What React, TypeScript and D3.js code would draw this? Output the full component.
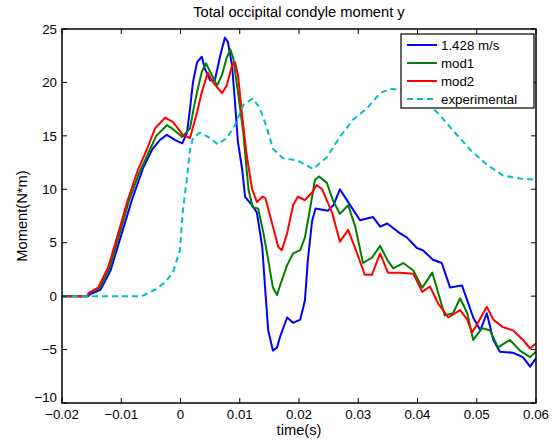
import React from "react";
import * as d3 from "d3";

const title = "Total occipital condyle moment y";
const xLabel = "time(s)";
const yLabel = "Moment(N*m)";
const xTicks = [-0.02, -0.01, 0, 0.01, 0.02, 0.03, 0.04, 0.05, 0.06];
const xTickLabels = ["\u22120.02", "\u22120.01", "0", "0.01", "0.02", "0.03", "0.04", "0.05", "0.06"];
const yTicks = [-10, -5, 0, 5, 10, 15, 20, 25];
const yTickLabels = ["\u221210", "\u22125", "0", "5", "10", "15", "20", "25"];
const seriesNames = ["1.428 m/s", "mod1", "mod2", "experimental"];
const seriesColors = ["#0000ff", "#008000", "#ff0000", "#00bfbf"];

const blue: [number, number][] = [
  [-0.02, 0], [-0.0156, 0], [-0.0152, 0.2], [-0.0135, 0.6], [-0.0118, 2.4], [-0.0099, 5.9],
  [-0.0082, 9.0], [-0.0063, 12.0], [-0.0048, 13.7], [-0.0035, 14.6], [-0.0023, 15.1],
  [-0.0009, 14.6], [0.0003, 14.3], [0.0011, 15.3], [0.0016, 17.5], [0.0021, 20.0],
  [0.0028, 21.9], [0.0036, 22.4], [0.0041, 21.3], [0.005, 20.2], [0.0058, 20.2],
  [0.0067, 22.5], [0.0075, 24.2], [0.008, 23.8], [0.0087, 21.6], [0.0092, 18.1],
  [0.0097, 14.4], [0.0104, 11.9], [0.0109, 9.3], [0.0121, 8.5], [0.0129, 7.8],
  [0.0138, 4.6], [0.0143, 0.6], [0.0148, -3.2], [0.0156, -5.1], [0.0163, -4.8],
  [0.0168, -3.8], [0.018, -2.0], [0.019, -2.5], [0.0202, -2.2], [0.021, -0.4],
  [0.0215, 3.4], [0.0222, 7.0], [0.0228, 8.2], [0.0249, 8.0], [0.0258, 8.5],
  [0.0269, 10.0], [0.0283, 8.8], [0.0303, 7.1], [0.0325, 7.4], [0.0337, 6.5],
  [0.0349, 6.8], [0.037, 5.9], [0.0382, 5.5], [0.0399, 4.5], [0.0409, 4.3],
  [0.0426, 3.4], [0.0441, 3.1], [0.0455, 0.8], [0.0475, 1.0], [0.0484, -0.4],
  [0.0494, -2.0], [0.0506, -3.2], [0.0517, -1.6], [0.0528, -4.1], [0.0539, -5.2],
  [0.0561, -5.3], [0.0578, -5.7], [0.059, -6.6], [0.06, -5.8],
];

const mod1: [number, number][] = [
  [-0.02, 0], [-0.0157, 0], [-0.0154, 0.3], [-0.0137, 0.7], [-0.012, 2.6], [-0.0103, 5.8],
  [-0.0087, 8.9], [-0.007, 11.5], [-0.0055, 13.3], [-0.0041, 15.0], [-0.0023, 16.0],
  [-0.0012, 15.6], [0.0003, 14.9], [0.0016, 15.7], [0.0022, 17.5], [0.0028, 19.1],
  [0.0036, 21.0], [0.0043, 21.8], [0.005, 21.0], [0.0062, 19.7], [0.007, 20.7],
  [0.0078, 22.3], [0.0084, 23.1], [0.0089, 22.3], [0.0097, 19.1], [0.0106, 15.3],
  [0.0112, 11.6], [0.0115, 9.9], [0.0122, 8.3], [0.0131, 8.2], [0.014, 5.9],
  [0.0148, 3.4], [0.0156, 0.8], [0.0163, 0.1], [0.0168, 1.0], [0.018, 2.9],
  [0.019, 4.0], [0.0202, 4.3], [0.021, 5.5], [0.0219, 8.3], [0.0227, 10.9],
  [0.0234, 11.2], [0.0247, 10.6], [0.0257, 9.0], [0.0269, 7.7], [0.0283, 8.5],
  [0.0295, 6.5], [0.0308, 3.1], [0.0323, 3.6], [0.0337, 4.7], [0.0349, 3.4],
  [0.0359, 2.6], [0.0376, 3.1], [0.0393, 2.4], [0.0408, 0.8], [0.0425, 2.2],
  [0.0435, 0.3], [0.0446, -1.8], [0.046, -1.6], [0.0472, -0.2], [0.0484, -1.6],
  [0.0494, -4.1], [0.0509, -3.0], [0.0522, -3.2], [0.0536, -4.8], [0.0556, -4.1],
  [0.0573, -5.1], [0.059, -5.7], [0.06, -5.2],
];

const mod2: [number, number][] = [
  [-0.02, 0], [-0.0158, 0], [-0.0155, 0.3], [-0.0139, 0.8], [-0.0122, 2.7], [-0.0105, 5.9],
  [-0.0089, 9.0], [-0.0072, 11.8], [-0.0057, 13.7], [-0.0043, 15.7], [-0.0026, 16.7],
  [-0.0013, 16.3], [0.0004, 15.1], [0.0016, 14.8], [0.0028, 17.2], [0.0036, 19.1],
  [0.0046, 20.9], [0.0055, 20.0], [0.007, 19.0], [0.0078, 19.7], [0.0087, 21.6],
  [0.0092, 21.9], [0.0097, 20.7], [0.0104, 16.9], [0.0111, 13.5], [0.0117, 11.3],
  [0.0121, 10.0], [0.0129, 8.8], [0.0138, 9.3], [0.0143, 9.2], [0.0148, 8.2],
  [0.0156, 6.5], [0.0165, 4.6], [0.0171, 4.3], [0.018, 5.9], [0.019, 8.5],
  [0.0198, 9.3], [0.021, 9.0], [0.0222, 9.7], [0.023, 10.4], [0.0239, 10.0],
  [0.0249, 8.7], [0.0256, 7.8], [0.0269, 5.1], [0.0283, 6.2], [0.0298, 4.0],
  [0.0311, 2.0], [0.0323, 2.0], [0.0337, 4.0], [0.035, 2.2], [0.037, 2.2],
  [0.0393, 2.1], [0.0408, 0.4], [0.0421, 0.9], [0.0435, -0.7], [0.0452, -2.0],
  [0.0472, -1.3], [0.0484, -2.2], [0.0492, -3.4], [0.0502, -2.5], [0.0517, -1.0],
  [0.0528, -2.2], [0.0544, -2.9], [0.0561, -3.2], [0.0578, -4.1], [0.059, -4.9],
  [0.06, -4.4],
];

const experimental: [number, number][] = [
  [-0.02, 0], [-0.0065, 0], [-0.0043, 0.6], [-0.0026, 1.3], [-0.0013, 2.2], [-0.0001, 4.3],
  [0.0004, 8.0], [0.0011, 11.1], [0.0016, 13.7], [0.0021, 14.8], [0.0033, 15.3],
  [0.005, 14.8], [0.0063, 14.2], [0.0078, 14.8], [0.0092, 16.0], [0.0106, 17.9],
  [0.0122, 18.5], [0.0134, 17.6], [0.0146, 15.7], [0.0156, 13.8], [0.0173, 12.9],
  [0.0197, 12.7], [0.0224, 11.9], [0.0247, 13.0], [0.0269, 14.9], [0.0291, 16.5],
  [0.0315, 17.6], [0.0337, 19.0], [0.0354, 19.4], [0.0374, 19.3], [0.04, 18.7],
  [0.042, 17.9], [0.0435, 17.1], [0.046, 15.5], [0.0489, 13.7], [0.0517, 12.3],
  [0.0544, 11.3], [0.0573, 11.0], [0.06, 10.9],
];

const allSeries = [blue, mod1, mod2, experimental];

const W = 555;
const H = 440;
const L = 62, R = 536, T = 29, B = 403;
const FONT = "'Liberation Sans', Arial, Helvetica, sans-serif";

export default function App() {
  const x = d3.scaleLinear().domain([-0.02, 0.06]).range([L, R]);
  const y = d3.scaleLinear().domain([-10, 25]).range([B, T]);
  const line = d3.line<[number, number]>().x((d) => x(d[0])).y((d) => y(d[1]));
  const tickLen = 5;
  const legX = 401, legY = 34, legW = 133, legH = 74;
  return (
    <svg width={W} height={H} style={{ position: "absolute", left: 0, top: 0, background: "#fff" }} fontFamily={FONT}>
      <rect x={0} y={0} width={W} height={H} fill="#fff" />
      <defs>
        <clipPath id="plotclip">
          <rect x={L} y={T} width={R - L} height={B - T} />
        </clipPath>
      </defs>
      <g clipPath="url(#plotclip)">
        {allSeries.map((s, i) => (
          <path
            key={i}
            d={line(s) || ""}
            fill="none"
            stroke={seriesColors[i]}
            strokeWidth={2}
            strokeDasharray={i === 3 ? "6,4" : undefined}
            strokeLinejoin="round"
          />
        ))}
      </g>
      <rect x={L} y={T} width={R - L} height={B - T} fill="none" stroke="#000" strokeWidth={1.5} />
      {xTicks.map((t, i) => (
        <g key={"xt" + i}>
          <line x1={x(t)} x2={x(t)} y1={B} y2={B - tickLen} stroke="#000" strokeWidth={1} />
          <line x1={x(t)} x2={x(t)} y1={T} y2={T + tickLen} stroke="#000" strokeWidth={1} />
          <text x={x(t)} y={419} textAnchor="middle" fontSize={13.3} fill="#000">
            {xTickLabels[i]}
          </text>
        </g>
      ))}
      {yTicks.map((v, i) => (
        <g key={"yt" + i}>
          <line x1={L} x2={L + tickLen} y1={y(v)} y2={y(v)} stroke="#000" strokeWidth={1} />
          <line x1={R} x2={R - tickLen} y1={y(v)} y2={y(v)} stroke="#000" strokeWidth={1} />
          <text x={57} y={y(v) + (v === -10 ? -1 : 4.7)} textAnchor="end" fontSize={13.3} fill="#000">
            {yTickLabels[i]}
          </text>
        </g>
      ))}
      <text x={(L + R) / 2} y={17} textAnchor="middle" fontSize={14.7} fill="#000">
        {title}
      </text>
      <text x={(L + R) / 2} y={435} textAnchor="middle" fontSize={14.7} fill="#000">
        {xLabel}
      </text>
      <text transform={`translate(27,${(T + B) / 2}) rotate(-90)`} textAnchor="middle" fontSize={14.7} fill="#000">
        {yLabel}
      </text>
      <rect x={legX} y={legY} width={legW} height={legH} fill="#fff" stroke="#000" strokeWidth={1.2} />
      {seriesNames.map((n, i) => {
        const ly = 45 + i * 18;
        return (
          <g key={"lg" + i}>
            <line x1={407} x2={437} y1={ly} y2={ly} stroke={seriesColors[i]} strokeWidth={2} strokeDasharray={i === 3 ? "6,4" : undefined} />
            <text x={441} y={ly + 4.7} fontSize={13.3} fill="#000">
              {n}
            </text>
          </g>
        );
      })}
    </svg>
  );
}
